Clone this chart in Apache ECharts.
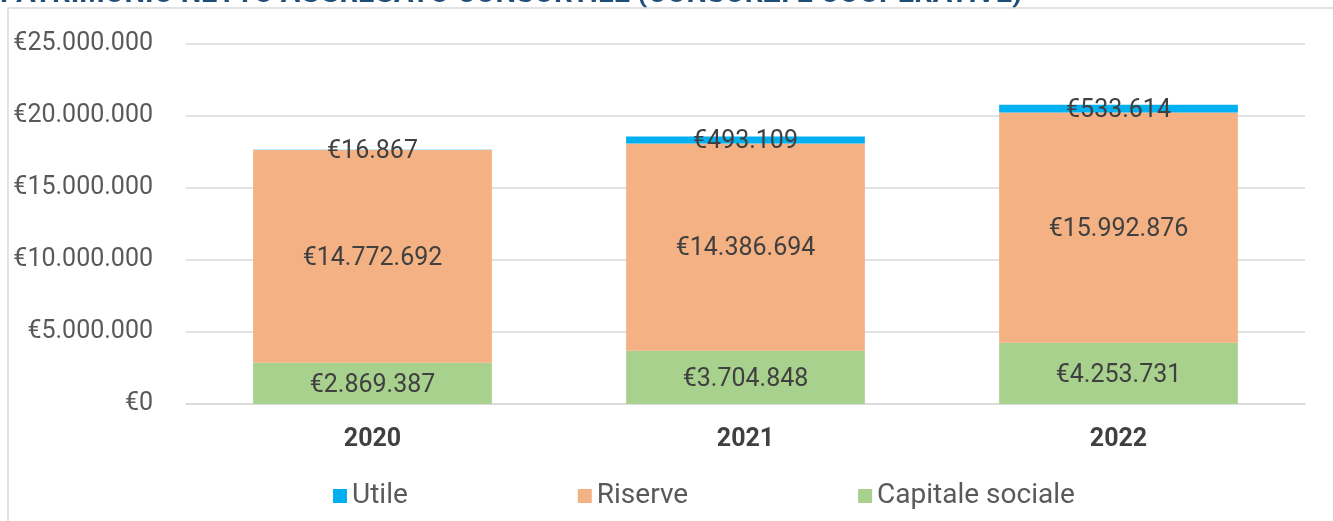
<!DOCTYPE html>
<html>
<head>
<meta charset="utf-8">
<script src="https://cdn.jsdelivr.net/npm/echarts@6/dist/echarts.min.js"></script>
<style>
  html, body { margin: 0; padding: 0; background: #fff; }
  #chart { width: 1333px; height: 521px; }
</style>
</head>
<body>
<div id="chart"></div>
<script>
    // dati
    var anni = ['2020', '2021', '2022'];
    var capitaleSociale = [2869387, 3704848, 4253731];
    var riserve = [14772692, 14386694, 15992876];
    var utile = [16867, 493109, 533614];

    var titolo = 'PATRIMONIO NETTO AGGREGATO CONSORTILE (CONSORZI E COOPERATIVE)';

    function formatEuro(v) {
        let s = String(Math.round(v)).replace(/\B(?=(\d{3})+(?!\d))/g, '.');
        return '€' + s;
    }

    let myChart = echarts.init(document.getElementById('chart'));
    let labelStyle = {
        show: true,
        position: 'inside',
        color: '#404040',
        fontFamily: 'Roboto',
        fontSize: 25,
        offset: [0, 2],
        formatter: function (p) { return formatEuro(p.value); }
    };

    let option = {
        animation: false,
        textStyle: { fontFamily: 'Roboto' },
        graphic: [
            {
                type: 'text',
                left: 0,
                top: -20,
                style: {
                    text: titolo,
                    fontFamily: 'Roboto',
                    fontWeight: 'bold',
                    fontSize: 29,
                    fill: '#1F4E79'
                }
            },
            {
                type: 'polyline',
                shape: { points: [[8, 521], [8, 8], [1333, 8]] },
                style: { stroke: '#d9d9d9', lineWidth: 1.5, fill: null }
            }
        ],
        legend: {
            top: 477,
            left: 328,
            itemGap: 170,
            itemWidth: 14,
            itemHeight: 14,
            itemTextGap: 12,
            icon: 'rect',
            textStyle: { color: '#595959', fontSize: 28, fontFamily: 'Roboto' },
            data: ['Utile', 'Riserve', 'Capitale sociale']
        },
        grid: {
            left: 186,
            right: 28,
            top: 44,
            bottom: 117
        },
        xAxis: {
            type: 'category',
            data: anni,
            axisTick: { show: false },
            axisLine: { lineStyle: { color: '#d9d9d9', width: 1.5 } },
            axisLabel: {
                color: '#404040',
                fontWeight: 'bold',
                fontSize: 25,
                margin: 23
            }
        },
        yAxis: {
            type: 'value',
            min: 0,
            max: 25000000,
            interval: 5000000,
            axisLine: { show: false },
            axisTick: { show: false },
            splitLine: { lineStyle: { color: '#d9d9d9', width: 1.5 } },
            axisLabel: {
                color: '#595959',
                fontSize: 25,
                margin: 33,
                formatter: function (v) { return formatEuro(v); }
            }
        },
        series: [
            {
                name: 'Capitale sociale',
                type: 'bar',
                stack: 'tot',
                barWidth: '64%',
                itemStyle: { color: '#A9D18E' },
                label: labelStyle,
                data: capitaleSociale
            },
            {
                name: 'Riserve',
                type: 'bar',
                stack: 'tot',
                itemStyle: { color: '#F4B183' },
                label: labelStyle,
                data: riserve
            },
            {
                name: 'Utile',
                type: 'bar',
                stack: 'tot',
                itemStyle: { color: '#00B0F0' },
                label: labelStyle,
                data: utile
            }
        ]
    };
    myChart.setOption(option);
</script>
</body>
</html>
